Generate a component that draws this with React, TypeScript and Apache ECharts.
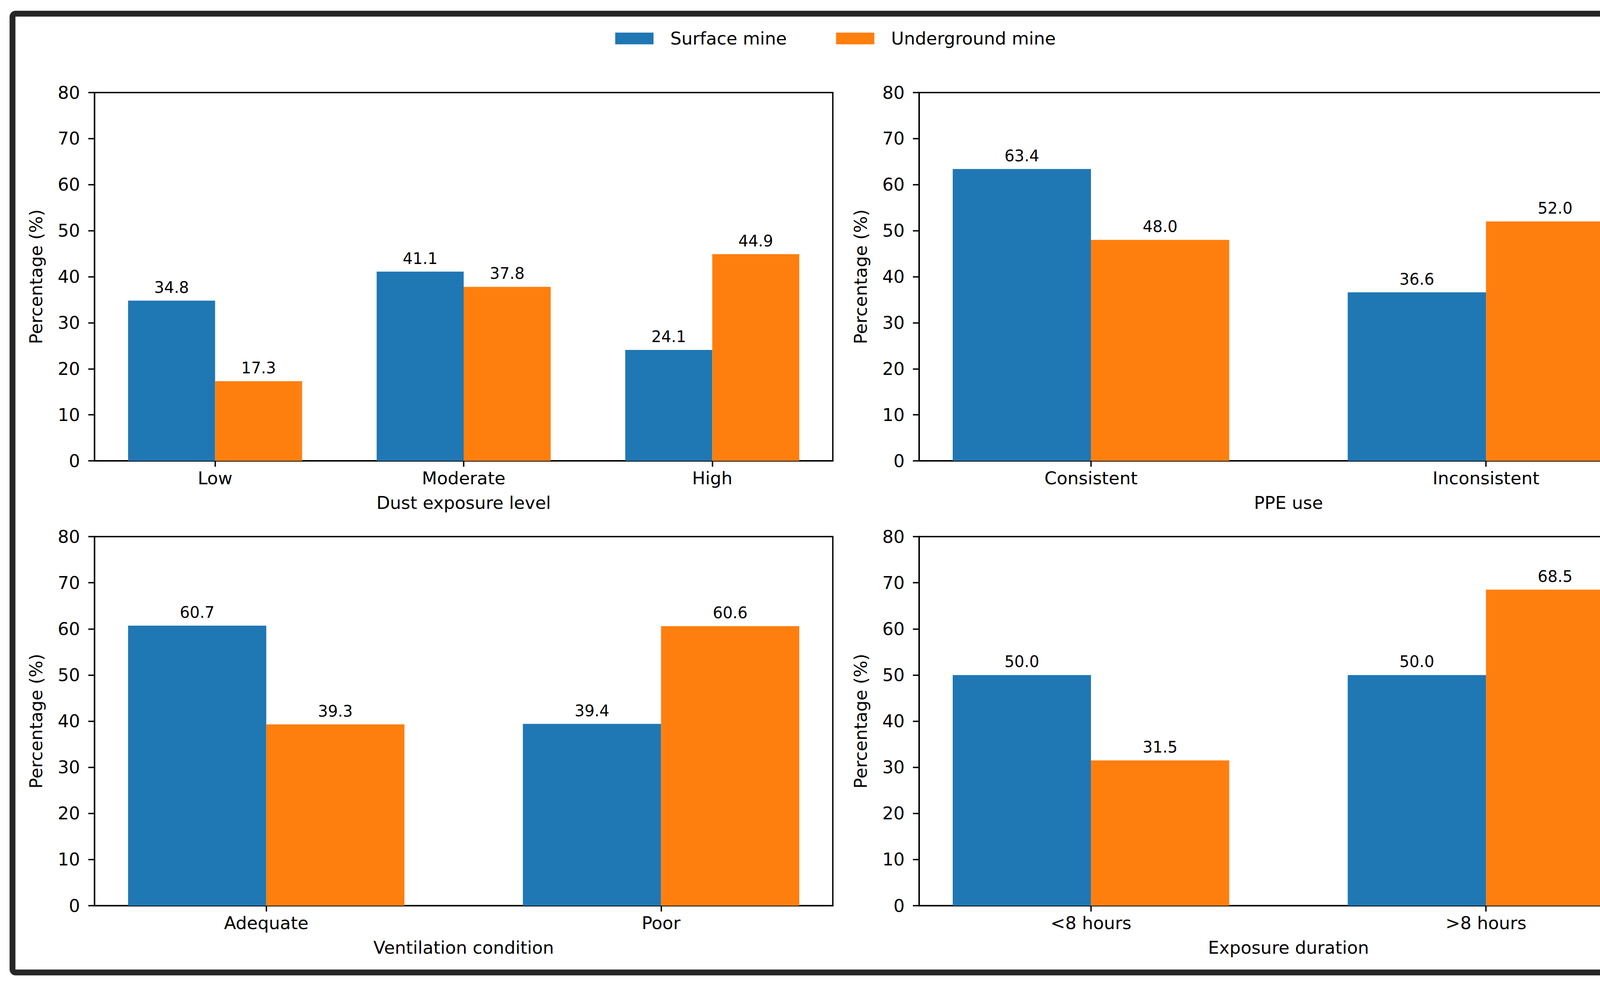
import React, { useEffect, useRef } from 'react';
import * as echarts from 'echarts';

const SERIES_NAMES = ['Surface mine', 'Underground mine'];
const COLORS = ['#1f77b4', '#ff7f0e'];

const dustCategories = ['Low', 'Moderate', 'High'];
const dustSurface = [34.8, 41.1, 24.1];
const dustUnderground = [17.3, 37.8, 44.9];

const ppeCategories = ['Consistent', 'Inconsistent'];
const ppeSurface = [63.4, 36.6];
const ppeUnderground = [48.0, 52.0];

const ventCategories = ['Adequate', 'Poor'];
const ventSurface = [60.7, 39.4];
const ventUnderground = [39.3, 60.6];

const durCategories = ['<8 hours', '>8 hours'];
const durSurface = [50.0, 50.0];
const durUnderground = [31.5, 68.5];

const xTitles = ['Dust exposure level', 'PPE use', 'Ventilation condition', 'Exposure duration'];
const Y_TITLE = 'Percentage (%)';
const Y_MIN = 0;
const Y_MAX = 80;
const Y_STEP = 10;

const FONT = 'DejaVu Sans';
const BAR_W = 0.35;

const panels = [
  { cats: dustCategories, vals: [dustSurface, dustUnderground], title: xTitles[0] },
  { cats: ppeCategories, vals: [ppeSurface, ppeUnderground], title: xTitles[1] },
  { cats: ventCategories, vals: [ventSurface, ventUnderground], title: xTitles[2] },
  { cats: durCategories, vals: [durSurface, durUnderground], title: xTitles[3] },
];

const gridBoxes = [
  { left: 242, top: 237, width: 1890, height: 943 },
  { left: 2353, top: 237, width: 1891, height: 943 },
  { left: 242, top: 1374, width: 1890, height: 945 },
  { left: 2353, top: 1374, width: 1891, height: 945 },
];

export default function App() {
  const ref = useRef<HTMLDivElement>(null);

  useEffect(() => {
    document.body.style.margin = '0';
    if (!ref.current) return;
    const chart = echarts.init(ref.current, undefined, { renderer: 'svg' });

    const grids: any[] = [];
    const xAxes: any[] = [];
    const yAxes: any[] = [];
    const series: any[] = [];

    panels.forEach((p, i) => {
      const n = p.cats.length;
      const span = n - 1 + 2 * BAR_W;
      const pad = span * 0.05;
      grids.push({
        ...gridBoxes[i],
        show: true,
        borderColor: '#000',
        borderWidth: 3.5,
        backgroundColor: 'transparent',
        containLabel: false,
      });
      const ticks = p.cats.map((_, k) => k);
      xAxes.push({
        type: 'value',
        gridIndex: i,
        min: -BAR_W - pad,
        max: n - 1 + BAR_W + pad,
        splitLine: { show: false },
        axisLine: { show: true, onZero: false, lineStyle: { color: '#000', width: 3.5 } },
        axisTick: {
          show: true,
          customValues: ticks,
          length: 15,
          inside: false,
          lineStyle: { color: '#000', width: 3.5 },
        },
        axisLabel: {
          show: true,
          customValues: ticks,
          formatter: (v: number) => p.cats[Math.round(v)] ?? '',
          color: '#000',
          fontFamily: FONT,
          fontSize: 45,
          margin: 22,
        },
        name: p.title,
        nameLocation: 'middle',
        nameGap: 85,
        nameTextStyle: { color: '#000', fontFamily: FONT, fontSize: 45 },
      });
      yAxes.push({
        type: 'value',
        gridIndex: i,
        min: Y_MIN,
        max: Y_MAX,
        interval: Y_STEP,
        splitLine: { show: false },
        axisLine: { show: true, onZero: false, lineStyle: { color: '#000', width: 3.5 } },
        axisTick: { show: true, length: 16, inside: false, lineStyle: { color: '#000', width: 3.5 } },
        axisLabel: { color: '#000', fontFamily: FONT, fontSize: 45, margin: 37 },
        name: Y_TITLE,
        nameLocation: 'middle',
        nameGap: 127,
        nameTextStyle: { color: '#000', fontFamily: FONT, fontSize: 45 },
      });
      p.vals.forEach((vals, s) => {
        const color = COLORS[s];
        series.push({
          type: 'custom',
          name: SERIES_NAMES[s],
          xAxisIndex: i,
          yAxisIndex: i,
          itemStyle: { color },
          encode: { x: 0, y: 1 },
          data: vals.map((v, k) => [k, v]),
          clip: false,
          renderItem: (params: any, api: any) => {
            const k = api.value(0);
            const v = api.value(1);
            const x0 = k + (s === 0 ? -BAR_W : 0);
            const tl = api.coord([x0, v]);
            const br = api.coord([x0 + BAR_W, 0]);
            return {
              type: 'group',
              children: [
                {
                  type: 'rect',
                  shape: { x: tl[0], y: tl[1], width: br[0] - tl[0], height: br[1] - tl[1] },
                  style: { fill: color },
                },
                {
                  type: 'text',
                  style: {
                    text: Number(v).toFixed(1),
                    x: (tl[0] + br[0]) / 2,
                    y: tl[1] - 14,
                    align: 'center',
                    verticalAlign: 'bottom',
                    textAlign: 'center',
                    textVerticalAlign: 'bottom',
                    fontFamily: FONT,
                    fontSize: 40,
                    fill: '#000',
                  },
                },
              ],
            };
          },
        });
      });
    });

    chart.setOption({
      animation: false,
      backgroundColor: '#fff',
      legend: {
        data: SERIES_NAMES,
        left: 1575,
        top: 76,
        padding: 0,
        icon: 'rect',
        itemWidth: 98,
        itemHeight: 30,
        itemGap: 126,
        textStyle: { color: '#000', fontFamily: FONT, fontSize: 45, padding: [0, 0, 0, 38] },
      },
      graphic: [
        {
          type: 'rect',
          shape: { x: 32, y: 35, width: 4252, height: 2455, r: 8 },
          style: { fill: 'none', stroke: '#262626', lineWidth: 15 },
          silent: true,
        },
      ],
      grid: grids,
      xAxis: xAxes,
      yAxis: yAxes,
      series,
    });

    return () => chart.dispose();
  }, []);

  return <div ref={ref} style={{ width: 4317, height: 2517 }} />;
}
